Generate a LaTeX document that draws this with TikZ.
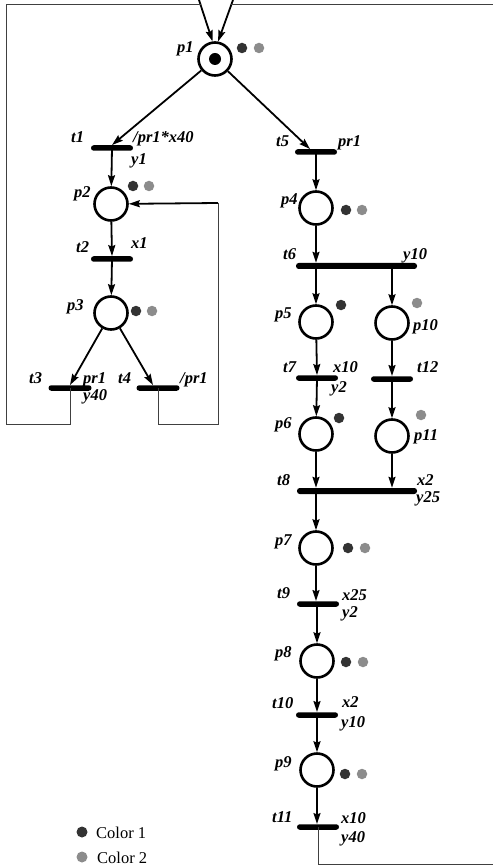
\documentclass[tikz,border=0pt]{standalone}
\usepackage{fontspec}
\setmainfont{Liberation Serif}
\usetikzlibrary{arrows.meta,calc}
\definecolor{colA}{HTML}{333333}
\definecolor{colB}{HTML}{8C8C8C}
\begin{document}
\begin{tikzpicture}[x=1pt,y=-1pt,
 place/.style={circle,draw,line width=2.6pt,minimum size=33pt,inner sep=0pt},
 trans/.style={rectangle,fill=black,minimum width=42pt,minimum height=5.5pt,inner sep=0pt,rounded corners=2.7pt},
 longtrans/.style={trans,minimum width=121pt,minimum height=6pt},
 arc/.style={line width=1.8pt,-{Stealth[length=11pt,width=7pt,inset=1.5pt]}},
 wire/.style={line width=1pt,black!75},
 lab/.style={font=\fontsize{16.5}{16.5}\selectfont\bfseries\itshape,inner sep=0pt,anchor=base west},
 leg/.style={font=\fontsize{16.5}{16.5}\selectfont,inner sep=0pt,anchor=base west},
 tokA/.style={circle,fill=colA,minimum size=10.5pt,inner sep=0pt},
 tokB/.style={circle,fill=colB,minimum size=10.5pt,inner sep=0pt},
 mark1/.style={circle,fill=black,minimum size=12pt,inner sep=0pt}]
\useasboundingbox (0,0) rectangle (492,866);

% places
\node[place] (p1) at (215,59) {};
\node[mark1] (m1) at (215,59) {};
\node[place] (p2) at (111,204) {};
\node[place] (p3) at (111,313) {};
\node[place] (p4) at (316,208) {};
\node[place] (p5) at (316,322) {};
\node[place] (p10) at (392,323) {};
\node[place] (p6) at (316,434) {};
\node[place] (p11) at (392,436) {};
\node[place] (p7) at (316,548) {};
\node[place] (p8) at (317,661) {};
\node[place] (p9) at (317,770) {};

% transitions
\node[trans] (t1) at (112,148) {};
\node[trans] (t5) at (316,152) {};
\node[trans] (t2) at (112,259) {};
\node[trans,minimum width=43pt] (t3) at (70,388) {};
\node[trans,minimum width=43pt] (t4) at (158,388) {};
\node[longtrans] (t6) at (356.5,266) {};
\node[trans] (t7) at (317,378) {};
\node[trans] (t12) at (392,379) {};
\node[longtrans,minimum width=120pt] (t8) at (357,491) {};
\node[trans] (t9) at (318,604) {};
\node[trans] (t10) at (317,715) {};
\node[trans] (t11) at (318,827) {};

% tokens
\node[tokA] (d1a) at (242,48) {}; \node[tokB] (d1b) at (259,48) {};
\node[tokA] (d2a) at (133,186) {}; \node[tokB] (d2b) at (149,186) {};
\node[tokA] (d3a) at (136,311) {}; \node[tokB] (d3b) at (152,311) {};
\node[tokA] (d4a) at (346,210) {}; \node[tokB] (d4b) at (362,210) {};
\node[tokA] (d5a) at (341,305) {};
\node[tokB] (d10b) at (417,303) {};
\node[tokA] (d6a) at (339,418) {};
\node[tokB] (d11b) at (421,415) {};
\node[tokA] (d7a) at (348,548) {}; \node[tokB] (d7b) at (365,548) {};
\node[tokA] (d8a) at (346,662) {}; \node[tokB] (d8b) at (363,662) {};
\node[tokA] (d9a) at (345,774) {}; \node[tokB] (d9b) at (362,774) {};

% coordinates for loops
\coordinate (in1) at (199,0);
\coordinate (h1) at (201,5);
\coordinate (tl) at (6,5);
\coordinate (bl) at (6,424);
\coordinate (in2) at (233,0);
\coordinate (h2) at (231,5);
\coordinate (tr) at (494,5);
\coordinate (br) at (494,864);
\coordinate (fb) at (218,424);
\coordinate (fbt) at (218,203);

% arcs
\draw[arc] (in1) -- (p1.98);
\draw[arc] (in2) -- (p1.80);
\draw[arc] (p1) -- (t1.north);
\draw[arc] (p1) -- ($(t5.north)+(-6,0)$);
\draw[arc] (t1.center) -- (p2);
\draw[arc] (p2) -- (t2.north);
\draw[arc] (t2.center) -- (p3);
\draw[arc] (p3) -- (t3.north);
\draw[arc] (p3) -- ($(t4.north)+(-5,0)$);
\draw[arc] (fbt) -- (p2);
\draw[arc] (t5.center) -- (p4);
\draw[arc] (p4) -- (p4 |- t6.north);
\draw[arc] (p5 |- t6.center) -- (p5);
\draw[arc] (p10 |- t6.center) -- (p10);
\draw[arc] (p5) -- (t7.north);
\draw[arc] (t7.center) -- (p6);
\draw[arc] (p10) -- (t12.north);
\draw[arc] (t12.center) -- (p11);
\draw[arc] (p6) -- (p6 |- t8.north);
\draw[arc] (p11) -- (p11 |- t8.north);
\draw[arc] (p7 |- t8.center) -- (p7);
\draw[arc] (p7) -- (p7 |- t9.north);
\draw[arc] (p8 |- t9.center) -- (p8);
\draw[arc] (p8) -- (t10.north);
\draw[arc] (t10.center) -- (p9);
\draw[arc] (p9) -- (p9 |- t11.north);

% loop wires
\draw[wire] (t3.center) |- (bl) -- (tl) -- (h1);
\draw[wire] (t4.center) |- (fb) -- (fbt);
\draw[wire] (t11.center) |- (br) -- (tr) -- (h2);

% labels
\node[lab] (lp1) at (177,53) {p1};
\node[lab] (lt1) at (71,143) {t1};
\node[lab] (lt1a) at (133,143) {/pr1*x40};
\node[lab] (lt1b) at (131,165) {y1};
\node[lab] (lt5) at (276,147) {t5};
\node[lab] (lt5a) at (338,147) {pr1};
\node[lab] (lp2) at (74,198) {p2};
\node[lab] (lp4) at (281,205) {p4};
\node[lab] (lt2) at (76,253) {t2};
\node[lab] (lt2a) at (131,249) {x1};
\node[lab] (lp3) at (67,310) {p3};
\node[lab] (lt3) at (29,383) {t3};
\node[lab] (lt3a) at (83,383) {pr1};
\node[lab] (lt3b) at (83,400) {y40};
\node[lab] (lt4) at (118,383) {t4};
\node[lab] (lt4a) at (180,383) {/pr1};
\node[lab] (lt6) at (283,260) {t6};
\node[lab] (lt6a) at (403,260) {y10};
\node[lab] (lp5) at (275,318) {p5};
\node[lab] (lp10) at (413,330) {p10};
\node[lab] (lt7) at (283,372) {t7};
\node[lab] (lt7a) at (333,372) {x10};
\node[lab] (lt7b) at (331,392) {y2};
\node[lab] (lt12) at (417,372) {t12};
\node[lab] (lp6) at (275,428) {p6};
\node[lab] (lp11) at (414,440) {p11};
\node[lab] (lt8) at (277,485) {t8};
\node[lab] (lt8a) at (417,485) {x2};
\node[lab] (lt8b) at (416,502) {y25};
\node[lab] (lp7) at (275,545) {p7};
\node[lab] (lt9) at (277,598) {t9};
\node[lab] (lt9a) at (342,600) {x25};
\node[lab] (lt9b) at (342,617) {y2};
\node[lab] (lp8) at (275,657) {p8};
\node[lab] (lt10) at (272,708) {t10};
\node[lab] (lt10a) at (342,707) {x2};
\node[lab] (lt10b) at (341,727) {y10};
\node[lab] (lp9) at (275,767) {p9};
\node[lab] (lt11) at (272,822) {t11};
\node[lab] (lt11a) at (341,823) {x10};
\node[lab] (lt11b) at (341,842) {y40};

% legend
\node[tokA,minimum size=11pt] (la) at (82,832) {};
\node[leg] (lla) at (96,838) {Color 1};
\node[tokB,minimum size=11pt] (lb) at (82,857) {};
\node[leg] (llb) at (97,863) {Color 2};
\end{tikzpicture}
\end{document}
